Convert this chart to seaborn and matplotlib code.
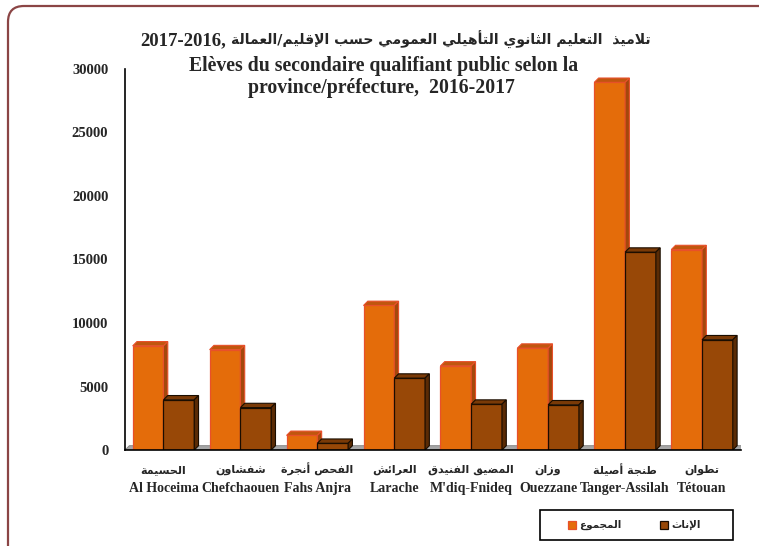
import numpy as np
import pandas as pd
import matplotlib
matplotlib.use('Agg')
import matplotlib.pyplot as plt
from matplotlib.patches import Polygon, Rectangle, FancyBboxPatch
from matplotlib.transforms import IdentityTransform
import seaborn as sns

# data
provinces_fr = ['Al Hoceima', 'Chefchaouen', 'Fahs Anjra', 'Larache',
                "M'diq-Fnideq", 'Ouezzane', 'Tanger-Assilah', 'Tétouan']
provinces_ar = ['الحسيمة', 'شفشاون', 'الفحص أنجرة', 'العرائش',
                'المضيق الفنيدق', 'وزان', 'طنجة أصيلة', 'تطوان']
total = [8200, 7900, 1150, 11380, 6620, 8020, 28950, 15780]
girls = [3950, 3340, 530, 5660, 3610, 3560, 15580, 8680]
series = ['المجموع', 'الإناث']
yticks = [0, 5000, 10000, 15000, 20000, 25000, 30000]

title_ar = 'تلاميذ  التعليم الثانوي التأهيلي العمومي حسب الإقليم/العمالة'
title_year = '2017-2016,'
title_fr1 = 'Elèves du secondaire qualifiant public selon la'
title_fr2 = 'province/préfecture,  2016-2017'

# matplotlib has no arabic shaping: use presentation forms + reverse
AR_BASE = {'أ': 0xFE83, 'إ': 0xFE87, 'ا': 0xFE8D, 'ة': 0xFE93, 'د': 0xFEA9,
           'ذ': 0xFEAB, 'ر': 0xFEAD, 'ز': 0xFEAF, 'و': 0xFEED,
           'ئ': 0xFE89, 'ب': 0xFE8F, 'ت': 0xFE95, 'ث': 0xFE99, 'ج': 0xFE9D,
           'ح': 0xFEA1, 'س': 0xFEB1, 'ش': 0xFEB5, 'ص': 0xFEB9, 'ض': 0xFEBD,
           'ط': 0xFEC1, 'ع': 0xFEC9, 'ف': 0xFED1, 'ق': 0xFED5, 'ل': 0xFEDD,
           'م': 0xFEE1, 'ن': 0xFEE5, 'ه': 0xFEE9, 'ي': 0xFEF1}
RIGHT_ONLY = set('أإاةدذرزو')
LAM_ALEF = {'ا': 0xFEFB, 'أ': 0xFEF7, 'إ': 0xFEF9}


def shape(text):
    out = []
    i = 0
    n = len(text)
    while i < n:
        ch = text[i]
        if ch not in AR_BASE:
            out.append(ch)
            i += 1
            continue
        prev = text[i - 1] if i > 0 else ''
        joins_prev = prev in AR_BASE and prev not in RIGHT_ONLY
        if ch == 'ل' and i + 1 < n and text[i + 1] in LAM_ALEF:
            out.append(chr(LAM_ALEF[text[i + 1]] + int(joins_prev)))
            i += 2
            continue
        nxt = text[i + 1] if i + 1 < n else ''
        joins_next = ch not in RIGHT_ONLY and nxt in AR_BASE
        if joins_prev and joins_next:
            form = 3
        elif joins_prev:
            form = 1
        elif joins_next:
            form = 2
        else:
            form = 0
        out.append(chr(AR_BASE[ch] + form))
        i += 1
    return ''.join(out)[::-1]


W, H = 759, 546
sns.set_style('white')
plt.rcParams['font.family'] = ['Liberation Serif', 'DejaVu Sans']

front = ['#E46C0A', '#984807']
edges = ['#E8502A', '#1A0D00']
tops = ['#C0560E', '#7A3A07']
sides = ['#A4480C', '#5A2B05']

df = pd.DataFrame({
    'province': provinces_fr * 2,
    'series': [series[0]] * len(total) + [series[1]] * len(girls),
    'value': total + girls,
})

fig = plt.figure(figsize=(W / 100, H / 100), dpi=100)
ax = fig.add_axes([125 / W, 96 / H, 615.5 / W, 381 / H])

sns.barplot(data=df, x='province', y='value', hue='series', hue_order=series,
            palette=front, saturation=1, width=0.8, legend=False, ax=ax)

dx = 0.056
dy = 339

# 3D-ish floor
floor = Polygon([(-0.5, 0), (7.5, 0), (7.5 + dx, dy), (-0.5 + dx, dy)],
                closed=True, facecolor='#A6A6A6', edgecolor='#7F7F7F', lw=0.6, zorder=1)
ax.add_patch(floor)

for k, cont in enumerate(ax.containers):
    z = 2 + k
    for bar in cont:
        bar.set_edgecolor(edges[k])
        bar.set_linewidth(0.9)
        bar.set_zorder(z)
        x0 = bar.get_x()
        w = bar.get_width()
        h = bar.get_height()
        x1 = x0 + w
        top = Polygon([(x0, h), (x0 + dx, h + dy), (x1 + dx, h + dy), (x1, h)],
                      closed=True, facecolor=tops[k], edgecolor=edges[k], lw=0.8, zorder=z + 0.1)
        side = Polygon([(x1, 0), (x1, h), (x1 + dx, h + dy), (x1 + dx, dy)],
                       closed=True, facecolor=sides[k], edgecolor=edges[k], lw=0.8, zorder=z + 0.1)
        ax.add_patch(top)
        ax.add_patch(side)

ax.set_xlim(-0.5, 7.5)
ax.set_ylim(0, 30000)
ax.set_yticks(yticks)
ax.set_yticklabels([str(v) for v in yticks], fontsize=10.5, fontweight='bold',
                   family='Liberation Serif')
ax.set_xticks(np.arange(-0.5, 8, 1), minor=True)
ax.tick_params(axis='x', which='major', length=0, labelbottom=False)
ax.tick_params(axis='x', which='minor', length=4, width=1, direction='out', color='black')
ax.tick_params(axis='y', length=4, width=1, direction='out', color='black', pad=8)
ax.set_xlabel('')
ax.set_ylabel('')
sns.despine(ax=ax)
for s in ['left', 'bottom']:
    ax.spines[s].set_color('black')
    ax.spines[s].set_linewidth(1.2)
    ax.spines[s].set_zorder(6)
ax.grid(False)

for i, (fr, ar) in enumerate(zip(provinces_fr, provinces_ar)):
    ax.text(i, -0.052, shape(ar), transform=ax.get_xaxis_transform(), ha='center',
            va='center', fontsize=8, fontweight='bold', family='DejaVu Sans')
    ax.text(i, -0.102, fr, transform=ax.get_xaxis_transform(), ha='center',
            va='center', fontsize=10, fontweight='bold', family='Liberation Serif')

# titles: year part in serif, arabic part in a font that has the glyphs
fig.text(140 / W, 1 - 41 / H, title_year, ha='left', va='center',
         fontsize=13.5, fontweight='bold', family='Liberation Serif')
fig.text(651 / W, 1 - 40 / H, shape(title_ar), ha='right', va='center',
         fontsize=10.1, fontweight='bold', family='DejaVu Sans')
fig.text(384 / W, 1 - 66 / H, title_fr1, ha='center', va='center',
         fontsize=14.2, fontweight='bold', family='Liberation Serif')
fig.text(381 / W, 1 - 88 / H, title_fr2, ha='center', va='center',
         fontsize=14.2, fontweight='bold', family='Liberation Serif')

# legend box
fig.add_artist(Rectangle((540 / W, 1 - 540 / H), 193 / W, 30 / H, transform=fig.transFigure,
                         fill=False, edgecolor='black', lw=1.2))
leg_x = [568, 660]
for k in range(2):
    fig.add_artist(Rectangle((leg_x[k] / W, 1 - 529 / H), 8 / W, 8 / H, transform=fig.transFigure,
                             facecolor=front[k], edgecolor=edges[k], lw=0.9))
    fig.text((leg_x[k] + 11) / W, 1 - 525 / H, shape(series[k]), ha='left', va='center',
             fontsize=7.5, fontweight='bold', family='DejaVu Sans')

# rounded outer frame, cut off at right and bottom
frame = FancyBboxPatch((8, -60), 820, 600, boxstyle='round,pad=0,rounding_size=16',
                       transform=IdentityTransform(), facecolor='none',
                       edgecolor='#8B4545', lw=1.6)
fig.add_artist(frame)

fig.savefig('out.png', dpi=100)
